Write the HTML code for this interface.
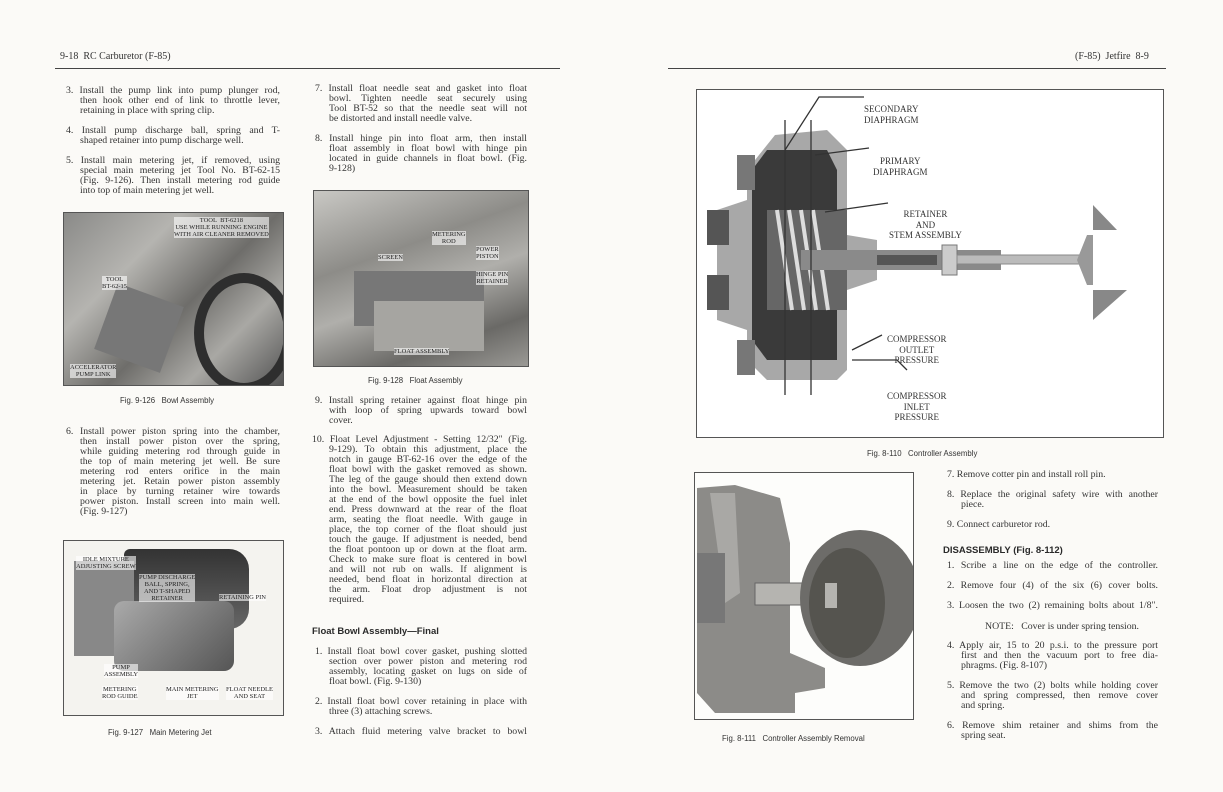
<!DOCTYPE html>
<html><head><meta charset="utf-8"><style>
body{margin:0;width:1223px;height:792px;background:#fbfaf7;position:relative;overflow:hidden;font-family:"Liberation Serif",serif;color:#333;}
.t{position:absolute;font-size:9.8px;white-space:nowrap;line-height:10px;}
.L1,.L2,.M1,.M2,.R1,.R2{position:absolute;font-size:9.8px;line-height:10px;white-space:nowrap;text-align:justify;text-align-last:justify;}
.L1{left:66px;width:214px}.L2{left:80px;width:200px}
.M1{left:315px;width:212px}.M2{left:329px;width:198px}
.R1{left:947px;width:211px}.R2{left:961px;width:197px}
.e{text-align-last:left !important;}
.h{position:absolute;font-family:"Liberation Sans",sans-serif;font-weight:bold;font-size:9.5px;color:#2a2a2a;}
.c{position:absolute;font-family:"Liberation Sans",sans-serif;font-size:7.8px;color:#333;white-space:nowrap;}
.box{position:absolute;border:1px solid #555;overflow:hidden;}
.lb{position:absolute;font-size:6.5px;line-height:7px;text-align:center;white-space:nowrap;color:#222;background:rgba(255,255,255,0.6);}
.bl{position:absolute;font-size:9px;line-height:10.5px;text-align:center;white-space:nowrap;color:#333;}
</style></head><body>
<div class="t" style="left:60px;top:52px;font-size:10px;">9-18&nbsp; RC Carburetor (F-85)</div>
<div style="position:absolute;left:55px;top:68px;width:505px;height:1px;background:#444"></div>
<div class="t" style="left:1075px;top:52px;font-size:10px;">(F-85)&nbsp; Jetfire&nbsp; 8-9</div>
<div style="position:absolute;left:668px;top:68px;width:498px;height:1px;background:#444"></div>

<!-- left column -->
<div class="L1" style="top:86px">3. Install the pump link into pump plunger rod,</div>
<div class="L2" style="top:96px">then hook other end of link to throttle lever,</div>
<div class="L2 e" style="top:106px">retaining in place with spring clip.</div>
<div class="L1" style="top:126px">4. Install pump discharge ball, spring and T-</div>
<div class="L2 e" style="top:136px">shaped retainer into pump discharge well.</div>
<div class="L1" style="top:156px">5. Install main metering jet, if removed, using</div>
<div class="L2" style="top:166px">special main metering jet Tool No. BT-62-15</div>
<div class="L2" style="top:176px">(Fig. 9-126). Then install metering rod guide</div>
<div class="L2 e" style="top:186px">into top of main metering jet well.</div>

<div class="box" style="left:63px;top:212px;width:219px;height:172px;background:linear-gradient(135deg,#8a8a88 0%,#b5b4b0 30%,#6e6d6a 55%,#a9a8a4 75%,#555 100%);">
<div style="position:absolute;left:130px;top:60px;width:80px;height:100px;border-radius:50%;border:10px solid #2e2e2e;"></div>
<div style="position:absolute;left:40px;top:80px;width:70px;height:70px;background:#777;transform:rotate(20deg)"></div>
<div class="lb" style="left:110px;top:4px">TOOL&nbsp; BT-6218<br>USE WHILE RUNNING ENGINE<br>WITH AIR CLEANER REMOVED</div>
<div class="lb" style="left:38px;top:63px">TOOL<br>BT-62-15</div>
<div class="lb" style="left:6px;top:151px">ACCELERATOR<br>PUMP LINK</div>
</div>
<div class="c" style="left:120px;top:396px">Fig. 9-126&nbsp;&nbsp; Bowl Assembly</div>

<div class="L1" style="top:427px">6. Install power piston spring into the chamber,</div>
<div class="L2" style="top:437px">then install power piston over the spring,</div>
<div class="L2" style="top:447px">while guiding metering rod through guide in</div>
<div class="L2" style="top:457px">the top of main metering jet well. Be sure</div>
<div class="L2" style="top:467px">metering rod enters orifice in the main</div>
<div class="L2" style="top:477px">metering jet. Retain power piston assembly</div>
<div class="L2" style="top:487px">in place by turning retainer wire towards</div>
<div class="L2" style="top:497px">power piston. Install screen into main well.</div>
<div class="L2 e" style="top:507px">(Fig. 9-127)</div>

<div class="box" style="left:63px;top:540px;width:219px;height:174px;background:#f4f3ef;">
<div style="position:absolute;left:60px;top:8px;width:125px;height:80px;background:linear-gradient(180deg,#333,#666);border-radius:6px 20px 20px 6px"></div>
<div style="position:absolute;left:10px;top:20px;width:60px;height:95px;background:#888"></div>
<div style="position:absolute;left:50px;top:60px;width:120px;height:70px;background:linear-gradient(135deg,#aaa,#555);border-radius:10px"></div>
<div class="lb" style="left:12px;top:15px">IDLE MIXTURE<br>ADJUSTING SCREW</div>
<div class="lb" style="left:75px;top:33px">PUMP DISCHARGE<br>BALL, SPRING,<br>AND T-SHAPED<br>RETAINER</div>
<div class="lb" style="left:155px;top:53px">RETAINING PIN</div>
<div class="lb" style="left:40px;top:123px">PUMP<br>ASSEMBLY</div>
<div class="lb" style="left:38px;top:145px">METERING<br>ROD GUIDE</div>
<div class="lb" style="left:102px;top:145px">MAIN METERING<br>JET</div>
<div class="lb" style="left:162px;top:145px">FLOAT NEEDLE<br>AND SEAT</div>
</div>
<div class="c" style="left:108px;top:728px">Fig. 9-127&nbsp;&nbsp; Main Metering Jet</div>

<!-- middle column -->
<div class="M1" style="top:84px">7. Install float needle seat and gasket into float</div>
<div class="M2" style="top:94px">bowl. Tighten needle seat securely using</div>
<div class="M2" style="top:104px">Tool BT-52 so that the needle seat will not</div>
<div class="M2 e" style="top:114px">be distorted and install needle valve.</div>
<div class="M1" style="top:134px">8. Install hinge pin into float arm, then install</div>
<div class="M2" style="top:144px">float assembly in float bowl with hinge pin</div>
<div class="M2" style="top:154px">located in guide channels in float bowl. (Fig.</div>
<div class="M2 e" style="top:164px">9-128)</div>

<div class="box" style="left:313px;top:190px;width:214px;height:175px;background:linear-gradient(160deg,#c9c8c4 0%,#8d8c88 35%,#b0afab 55%,#6a6966 80%,#9a9995 100%);">
<div style="position:absolute;left:40px;top:80px;width:130px;height:55px;background:#777;"></div>
<div style="position:absolute;left:60px;top:110px;width:110px;height:50px;background:#a6a5a1;"></div>
<div class="lb" style="left:118px;top:40px">METERING<br>ROD</div>
<div class="lb" style="left:64px;top:63px">SCREEN</div>
<div class="lb" style="left:162px;top:55px">POWER<br>PISTON</div>
<div class="lb" style="left:162px;top:80px">HINGE PIN<br>RETAINER</div>
<div class="lb" style="left:80px;top:157px">FLOAT ASSEMBLY</div>
</div>
<div class="c" style="left:368px;top:376px">Fig. 9-128&nbsp;&nbsp; Float Assembly</div>

<div class="M1" style="top:396px">9. Install spring retainer against float hinge pin</div>
<div class="M2" style="top:406px">with loop of spring upwards toward bowl</div>
<div class="M2 e" style="top:416px">cover.</div>
<div class="M1" style="top:435px;left:312px;width:215px">10. Float Level Adjustment - Setting 12/32" (Fig.</div>
<div class="M2" style="top:445px">9-129). To obtain this adjustment, place the</div>
<div class="M2" style="top:455px">notch in gauge BT-62-16 over the edge of the</div>
<div class="M2" style="top:465px">float bowl with the gasket removed as shown.</div>
<div class="M2" style="top:475px">The leg of the gauge should then extend down</div>
<div class="M2" style="top:485px">into the bowl. Measurement should be taken</div>
<div class="M2" style="top:495px">at the end of the bowl opposite the fuel inlet</div>
<div class="M2" style="top:505px">end. Press downward at the rear of the float</div>
<div class="M2" style="top:515px">arm, seating the float needle. With gauge in</div>
<div class="M2" style="top:525px">place, the top corner of the float should just</div>
<div class="M2" style="top:535px">touch the gauge. If adjustment is needed, bend</div>
<div class="M2" style="top:545px">the float pontoon up or down at the float arm.</div>
<div class="M2" style="top:555px">Check to make sure float is centered in bowl</div>
<div class="M2" style="top:565px">and will not rub on walls. If alignment is</div>
<div class="M2" style="top:575px">needed, bend float in horizontal direction at</div>
<div class="M2" style="top:585px">the arm. Float drop adjustment is not</div>
<div class="M2 e" style="top:595px">required.</div>
<div class="h" style="left:312px;top:626px">Float Bowl Assembly—Final</div>
<div class="M1" style="top:647px">1. Install float bowl cover gasket, pushing slotted</div>
<div class="M2" style="top:657px">section over power piston and metering rod</div>
<div class="M2" style="top:667px">assembly, locating gasket on lugs on side of</div>
<div class="M2 e" style="top:677px">float bowl. (Fig. 9-130)</div>
<div class="M1" style="top:697px">2. Install float bowl cover retaining in place with</div>
<div class="M2 e" style="top:707px">three (3) attaching screws.</div>
<div class="M1" style="top:727px">3. Attach fluid metering valve bracket to bowl</div>

<!-- right big figure -->
<div class="box" style="left:696px;top:89px;width:466px;height:347px;background:#fff;">
<svg width="466" height="347" style="position:absolute;left:0;top:0">
<path d="M78 45 L130 40 L150 60 L150 145 L180 150 L180 190 L150 200 L150 280 L140 290 L70 290 L50 270 L50 240 L20 230 L20 120 L50 110 L50 80 Z" fill="#a8a8a8"/>
<path d="M70 60 L130 60 L140 80 L140 270 L70 270 L55 250 L55 80 Z" fill="#3a3a3a"/>
<rect x="70" y="120" width="80" height="100" fill="#666"/>
<g stroke="#ddd" stroke-width="4" fill="none"><path d="M80 120 L95 220"/><path d="M92 120 L107 220"/><path d="M104 120 L119 220"/><path d="M116 120 L131 220"/></g>
<rect x="104" y="160" width="200" height="20" fill="#8a8a8a"/>
<rect x="180" y="165" width="60" height="10" fill="#555"/>
<rect x="245" y="155" width="15" height="30" fill="#ccc" stroke="#777"/>
<rect x="260" y="165" width="125" height="9" fill="#bbb" stroke="#888"/>
<path d="M380 170 L390 145 L396 145 L396 195 L390 195 Z" fill="#999"/>
<path d="M396 115 L420 140 L396 140 Z" fill="#888"/>
<path d="M396 200 L430 200 L396 230 Z" fill="#888"/>
<rect x="10" y="120" width="22" height="35" fill="#555"/><rect x="10" y="185" width="22" height="35" fill="#555"/>
<rect x="40" y="65" width="18" height="35" fill="#777"/><rect x="40" y="250" width="18" height="35" fill="#777"/>
<g stroke="#333" stroke-width="1.3" fill="none">
<path d="M88 30 L88 305"/><path d="M114 30 L114 305"/>
<path d="M88 60 L122 7 L167 7"/><path d="M118 65 L172 58"/><path d="M128 122 L191 113"/>
<path d="M155 260 L185 245"/><path d="M155 270 L200 270 L210 280"/>
</g>
</svg>
<div class="bl" style="left:167px;top:14px;text-align:left">SECONDARY<br>DIAPHRAGM</div>
<div class="bl" style="left:176px;top:66px">PRIMARY<br>DIAPHRAGM</div>
<div class="bl" style="left:192px;top:119px">RETAINER<br>AND<br>STEM ASSEMBLY</div>
<div class="bl" style="left:190px;top:244px">COMPRESSOR<br>OUTLET<br>PRESSURE</div>
<div class="bl" style="left:190px;top:301px">COMPRESSOR<br>INLET<br>PRESSURE</div>
</div>
<div class="c" style="left:867px;top:449px">Fig. 8-110&nbsp;&nbsp; Controller Assembly</div>

<div class="box" style="left:694px;top:472px;width:218px;height:246px;background:#fdfdfb;">
<svg width="218" height="246" style="position:absolute;left:0;top:0">
<path d="M2 15 L40 12 L85 25 L95 70 L95 180 L130 195 L130 215 L100 220 L100 240 L20 240 L2 220 Z" fill="#8c8b88"/>
<path d="M15 20 L40 20 L45 120 L30 130 Z" fill="#a9a8a5"/>
<path d="M2 80 L30 80 L30 150 L2 150 Z" fill="#777"/>
<rect x="60" y="110" width="85" height="22" fill="#b5b4b0" stroke="#666"/>
<ellipse cx="165" cy="125" rx="60" ry="68" fill="#6d6c69"/>
<ellipse cx="152" cy="130" rx="38" ry="55" fill="#55544f"/>
<rect x="130" y="110" width="12" height="25" fill="#b5b4b0"/>
</svg>
</div>
<div class="c" style="left:722px;top:734px">Fig. 8-111&nbsp;&nbsp; Controller Assembly Removal</div>

<!-- right text -->
<div class="R1 e" style="top:470px">7. Remove cotter pin and install roll pin.</div>
<div class="R1" style="top:490px">8. Replace the original safety wire with another</div>
<div class="R2 e" style="top:500px">piece.</div>
<div class="R1 e" style="top:520px">9. Connect carburetor rod.</div>
<div class="h" style="left:943px;top:545px">DISASSEMBLY (Fig. 8-112)</div>
<div class="R1" style="top:561px">1. Scribe a line on the edge of the controller.</div>
<div class="R1" style="top:581px">2. Remove four (4) of the six (6) cover bolts.</div>
<div class="R1" style="top:601px">3. Loosen the two (2) remaining bolts about 1/8".</div>
<div class="t" style="left:985px;top:622px">NOTE:&nbsp;&nbsp; Cover is under spring tension.</div>
<div class="R1" style="top:641px">4. Apply air, 15 to 20 p.s.i. to the pressure port</div>
<div class="R2" style="top:651px">first and then the vacuum port to free dia-</div>
<div class="R2 e" style="top:661px">phragms. (Fig. 8-107)</div>
<div class="R1" style="top:681px">5. Remove the two (2) bolts while holding cover</div>
<div class="R2" style="top:691px">and spring compressed, then remove cover</div>
<div class="R2 e" style="top:701px">and spring.</div>
<div class="R1" style="top:721px">6. Remove shim retainer and shims from the</div>
<div class="R2 e" style="top:731px">spring seat.</div>
</body></html>
